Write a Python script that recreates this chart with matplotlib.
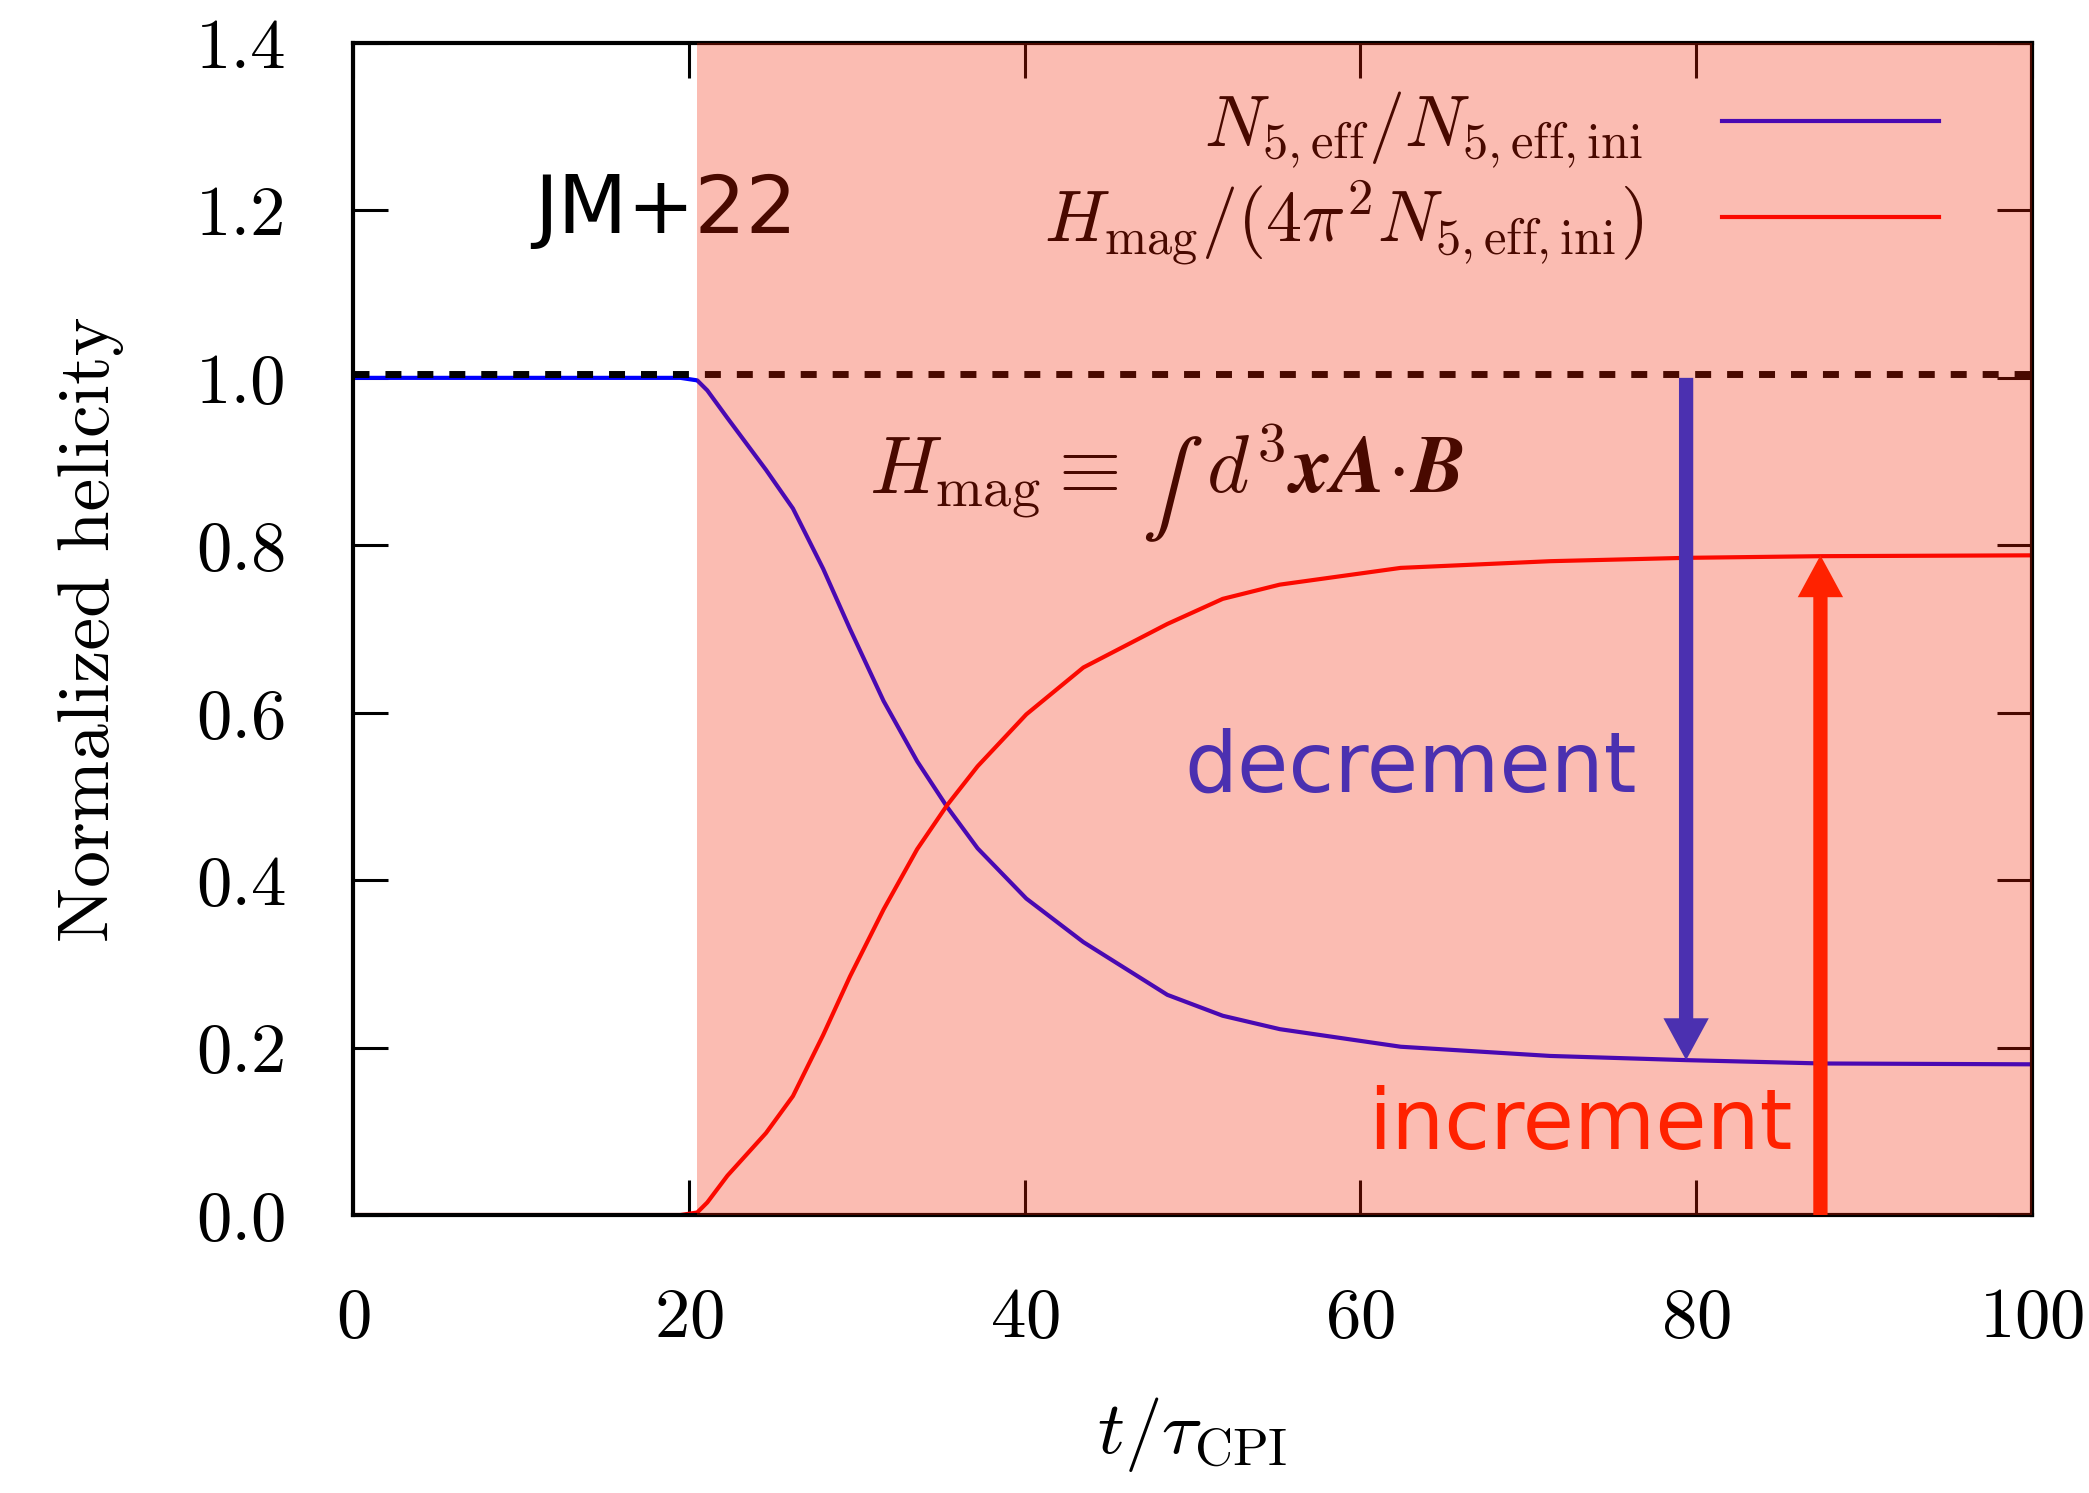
import matplotlib
matplotlib.use("Agg")
import matplotlib.pyplot as plt

plt.rcParams["font.family"] = ["cmr10", "DejaVu Serif"]
plt.rcParams["mathtext.fontset"] = "cm"
plt.rcParams["axes.formatter.use_mathtext"] = True

# Time in units of tau_CPI and the two normalized helicity components
t = [0, 19.5, 20.5, 21.1, 22.3, 24.6, 26.2, 28.0, 29.6, 31.6, 33.6, 35.4, 37.2,
     40.1, 43.5, 48.5, 51.8, 55.2, 62.4, 71.3, 79.4, 87.5, 100]
n5_ratio = [1.0, 1.0, 0.997, 0.985, 0.952, 0.890, 0.844, 0.772, 0.700, 0.614,
            0.542, 0.487, 0.438, 0.378, 0.326, 0.263, 0.238, 0.222, 0.201,
            0.190, 0.185, 0.181, 0.180]
hmag_ratio = [0, 0, 0.003, 0.015, 0.047, 0.098, 0.142, 0.215, 0.285, 0.365,
              0.437, 0.490, 0.536, 0.598, 0.654, 0.706, 0.736, 0.753, 0.773,
              0.781, 0.785, 0.787, 0.788]

x_ticks = [0, 20, 40, 60, 80, 100]
y_ticks = [0.0, 0.2, 0.4, 0.6, 0.8, 1.0, 1.2, 1.4]
y_tick_labels = ["0.0", "0.2", "0.4", "0.6", "0.8", "1.0", "1.2", "1.4"]

instability_start = 20.5
initial_level = 1.0
decrement_t = 79.4
decrement_end = 0.185
increment_t = 87.4
increment_end = 0.788

fig = plt.figure(figsize=(20.89, 14.93), dpi=100)
ax = fig.add_axes([0.169, 0.1862, 0.8037, 0.785])

ax.plot(t, n5_ratio, color="#0000FF", lw=3, zorder=2,
        label=r"$N_{5,\mathrm{eff}}/N_{5,\mathrm{eff,ini}}$")
ax.plot(t, hmag_ratio, color="#FF0000", lw=3, zorder=2,
        label=r"$H_{\mathrm{mag}}/(4\pi^2 N_{5,\mathrm{eff,ini}})$")
ax.axhline(initial_level + 0.005, color="black", lw=5, dashes=(2.3, 2.3), zorder=2.1)

ax.set_xlim(0, 100)
ax.set_ylim(0, 1.4)
ax.set_xticks(x_ticks)
ax.set_yticks(y_ticks)
ax.set_yticklabels(y_tick_labels)
ax.tick_params(direction="in", top=True, right=True, length=25, width=2.2,
               labelsize=51, pad=48)
ax.tick_params(axis="x", pad=52)
for sp in ax.spines.values():
    sp.set_linewidth(3)

ax.set_xlabel(r"$t/\tau_{\mathrm{CPI}}$", fontsize=54, labelpad=32)
ax.set_ylabel("Normalized helicity", fontsize=53, labelpad=52)

leg = ax.legend(loc="upper right", bbox_to_anchor=(0.9446, 0.96), frameon=False,
                markerfirst=False, fontsize=52, handlelength=3.0,
                handletextpad=1.1, labelspacing=0.12, borderpad=0,
                borderaxespad=0)
leg.set_zorder(2.55)

ax.text(0.186, 0.857, "JM+22", transform=ax.transAxes, fontsize=58,
        family="DejaVu Sans", color="black", ha="center", va="center", zorder=2.55)

# definition of the magnetic helicity, set in three pieces so that the
# integral sign keeps its inline size
ax.text(0.456, 0.616, r"$H_{\mathrm{mag}} \equiv$", transform=ax.transAxes,
        fontsize=58, color="black", ha="right", va="baseline", zorder=2.55)
ax.text(0.4825, 0.600, "\u222b", transform=ax.transAxes, family="STIXGeneral",
        fontsize=66, color="black", ha="center", va="baseline", zorder=2.55)
ax.text(0.508, 0.616, r"$d^3\boldsymbol{x}\boldsymbol{A}\!\cdot\!\boldsymbol{B}$",
        transform=ax.transAxes, fontsize=58, color="black", ha="left",
        va="baseline", zorder=2.55)

# translucent red overlay for the instability phase
ax.axvspan(instability_start, 100, color=(245 / 255, 33 / 255, 0), alpha=0.302,
           lw=0, zorder=2.6)

ax.arrow(decrement_t, initial_level, 0, decrement_end - initial_level,
         width=0.85, head_width=2.7, head_length=0.05, length_includes_head=True,
         color="#4B30B0", lw=0, zorder=4)
ax.arrow(increment_t, 0, 0, increment_end, width=0.85, head_width=2.7,
         head_length=0.05, length_includes_head=True, color="#FF2200", lw=0,
         zorder=4, clip_on=False)

ax.text(0.630, 0.381, "decrement", transform=ax.transAxes, fontsize=60,
        family="DejaVu Sans", color="#4B30B0", ha="center", va="center", zorder=4)
ax.text(0.731, 0.076, "increment", transform=ax.transAxes, fontsize=60,
        family="DejaVu Sans", color="#FF2200", ha="center", va="center", zorder=4)

fig.savefig("out.png", dpi=100)
